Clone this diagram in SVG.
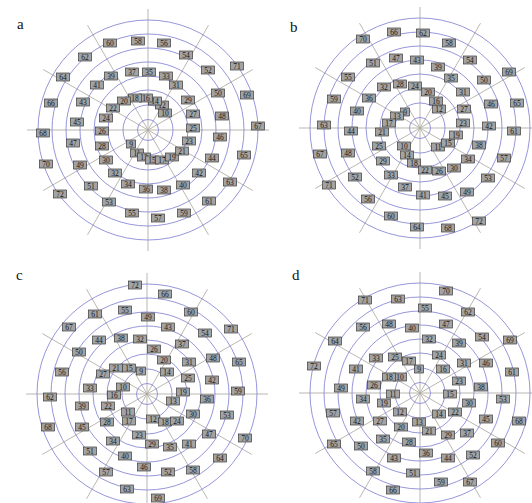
<svg xmlns="http://www.w3.org/2000/svg" xmlns:xlink="http://www.w3.org/1999/xlink" width="532" height="503" viewBox="0 0 532 503">
<style>
.bg{fill:#fff}
.ring{fill:none;stroke:#8a8ad6;stroke-width:0.9}
.spoke{stroke:#aaa59d;stroke-width:0.8}
.n rect{fill:#a3a3a3;stroke:#3a3a3a;stroke-width:0.7}
.n text{font-family:"Liberation Serif","Times New Roman",serif;font-size:7.5px;text-anchor:middle;fill:#151515}
.t{font-family:"Liberation Serif","Times New Roman",serif;font-size:15px;fill:#111}
</style>
<defs>
<g id="grid">
<line class="spoke" x1="-121" y1="0" x2="121" y2="0"/>
<line class="spoke" x1="0" y1="-121" x2="0" y2="121"/>
<line class="spoke" x1="-104.8" y1="-60.5" x2="104.8" y2="60.5"/>
<line class="spoke" x1="-104.8" y1="60.5" x2="104.8" y2="-60.5"/>
<line class="spoke" x1="-60.5" y1="-104.8" x2="60.5" y2="104.8"/>
<line class="spoke" x1="-60.5" y1="104.8" x2="60.5" y2="-104.8"/>
<circle class="ring" r="10.5"/>
<circle class="ring" r="25"/>
<circle class="ring" r="40"/>
<circle class="ring" r="54"/>
<circle class="ring" r="68"/>
<circle class="ring" r="82"/>
<circle class="ring" r="96"/>
<circle class="ring" r="110"/>
</g>
</defs>
<rect class="bg" width="532" height="503"/>
<g id="connectors">
<use xlink:href="#grid" href="#grid" transform="translate(148,130)"/>
<use xlink:href="#grid" href="#grid" transform="translate(420,128)"/>
<use xlink:href="#grid" href="#grid" transform="translate(147,394)"/>
<use xlink:href="#grid" href="#grid" transform="translate(420,393)"/>
</g>
<g id="titles">
<text class="t" x="17" y="29">a</text>
<text class="t" x="290" y="32">b</text>
<text class="t" x="16" y="280">c</text>
<text class="t" x="292" y="280">d</text>
</g>
<g id="panel-a">
<g id="a9" class="n" transform="translate(131,144)"><rect x="-4.5" y="-4" width="9" height="8"/><text y="2.6">9</text></g>
<g id="a10" class="n" transform="translate(165,113)"><rect x="-6.5" y="-4" width="13" height="8"/><text y="2.6">10</text></g>
<g id="a11" class="n" transform="translate(137,153)"><rect x="-6.5" y="-4" width="13" height="8"/><text y="2.6">11</text></g>
<g id="a12" class="n" transform="translate(162,105)"><rect x="-6.5" y="-4" width="13" height="8"/><text y="2.6">12</text></g>
<g id="a13" class="n" transform="translate(144,157)"><rect x="-6.5" y="-4" width="13" height="8"/><text y="2.6">13</text></g>
<g id="a14" class="n" transform="translate(155,101)"><rect x="-6.5" y="-4" width="13" height="8"/><text y="2.6">14</text></g>
<g id="a15" class="n" transform="translate(152,160)"><rect x="-6.5" y="-4" width="13" height="8"/><text y="2.6">15</text></g>
<g id="a16" class="n" transform="translate(146,98)"><rect x="-6.5" y="-4" width="13" height="8"/><text y="2.6">16</text></g>
<g id="a17" class="n" transform="translate(162,160)"><rect x="-6.5" y="-4" width="13" height="8"/><text y="2.6">17</text></g>
<g id="a18" class="n" transform="translate(135,98)"><rect x="-6.5" y="-4" width="13" height="8"/><text y="2.6">18</text></g>
<g id="a19" class="n" transform="translate(172,157)"><rect x="-6.5" y="-4" width="13" height="8"/><text y="2.6">19</text></g>
<g id="a20" class="n" transform="translate(124,101)"><rect x="-6.5" y="-4" width="13" height="8"/><text y="2.6">20</text></g>
<g id="a21" class="n" transform="translate(182,151)"><rect x="-6.5" y="-4" width="13" height="8"/><text y="2.6">21</text></g>
<g id="a22" class="n" transform="translate(113,108)"><rect x="-6.5" y="-4" width="13" height="8"/><text y="2.6">22</text></g>
<g id="a23" class="n" transform="translate(189,141)"><rect x="-6.5" y="-4" width="13" height="8"/><text y="2.6">23</text></g>
<g id="a24" class="n" transform="translate(106,118)"><rect x="-6.5" y="-4" width="13" height="8"/><text y="2.6">24</text></g>
<g id="a25" class="n" transform="translate(193,128)"><rect x="-6.5" y="-4" width="13" height="8"/><text y="2.6">25</text></g>
<g id="a26" class="n" transform="translate(102,131)"><rect x="-6.5" y="-4" width="13" height="8"/><text y="2.6">26</text></g>
<g id="a27" class="n" transform="translate(193,114)"><rect x="-6.5" y="-4" width="13" height="8"/><text y="2.6">27</text></g>
<g id="a28" class="n" transform="translate(102,146)"><rect x="-6.5" y="-4" width="13" height="8"/><text y="2.6">28</text></g>
<g id="a29" class="n" transform="translate(188,100)"><rect x="-6.5" y="-4" width="13" height="8"/><text y="2.6">29</text></g>
<g id="a30" class="n" transform="translate(106,160)"><rect x="-6.5" y="-4" width="13" height="8"/><text y="2.6">30</text></g>
<g id="a31" class="n" transform="translate(176,85)"><rect x="-6.5" y="-4" width="13" height="8"/><text y="2.6">31</text></g>
<g id="a32" class="n" transform="translate(115,173)"><rect x="-6.5" y="-4" width="13" height="8"/><text y="2.6">32</text></g>
<g id="a33" class="n" transform="translate(166,76)"><rect x="-6.5" y="-4" width="13" height="8"/><text y="2.6">33</text></g>
<g id="a34" class="n" transform="translate(128,184)"><rect x="-6.5" y="-4" width="13" height="8"/><text y="2.6">34</text></g>
<g id="a35" class="n" transform="translate(149,72)"><rect x="-6.5" y="-4" width="13" height="8"/><text y="2.6">35</text></g>
<g id="a36" class="n" transform="translate(146,189)"><rect x="-6.5" y="-4" width="13" height="8"/><text y="2.6">36</text></g>
<g id="a37" class="n" transform="translate(132,72)"><rect x="-6.5" y="-4" width="13" height="8"/><text y="2.6">37</text></g>
<g id="a38" class="n" transform="translate(164,190)"><rect x="-6.5" y="-4" width="13" height="8"/><text y="2.6">38</text></g>
<g id="a39" class="n" transform="translate(111,76)"><rect x="-6.5" y="-4" width="13" height="8"/><text y="2.6">39</text></g>
<g id="a40" class="n" transform="translate(183,185)"><rect x="-6.5" y="-4" width="13" height="8"/><text y="2.6">40</text></g>
<g id="a41" class="n" transform="translate(97,85)"><rect x="-6.5" y="-4" width="13" height="8"/><text y="2.6">41</text></g>
<g id="a42" class="n" transform="translate(199,173)"><rect x="-6.5" y="-4" width="13" height="8"/><text y="2.6">42</text></g>
<g id="a43" class="n" transform="translate(83,102)"><rect x="-6.5" y="-4" width="13" height="8"/><text y="2.6">43</text></g>
<g id="a44" class="n" transform="translate(212,158)"><rect x="-6.5" y="-4" width="13" height="8"/><text y="2.6">44</text></g>
<g id="a45" class="n" transform="translate(77,122)"><rect x="-6.5" y="-4" width="13" height="8"/><text y="2.6">45</text></g>
<g id="a46" class="n" transform="translate(220,137)"><rect x="-6.5" y="-4" width="13" height="8"/><text y="2.6">46</text></g>
<g id="a47" class="n" transform="translate(73,143)"><rect x="-6.5" y="-4" width="13" height="8"/><text y="2.6">47</text></g>
<g id="a48" class="n" transform="translate(222,116)"><rect x="-6.5" y="-4" width="13" height="8"/><text y="2.6">48</text></g>
<g id="a49" class="n" transform="translate(80,165)"><rect x="-6.5" y="-4" width="13" height="8"/><text y="2.6">49</text></g>
<g id="a50" class="n" transform="translate(218,93)"><rect x="-6.5" y="-4" width="13" height="8"/><text y="2.6">50</text></g>
<g id="a51" class="n" transform="translate(91,186)"><rect x="-6.5" y="-4" width="13" height="8"/><text y="2.6">51</text></g>
<g id="a52" class="n" transform="translate(208,70)"><rect x="-6.5" y="-4" width="13" height="8"/><text y="2.6">52</text></g>
<g id="a53" class="n" transform="translate(109,202)"><rect x="-6.5" y="-4" width="13" height="8"/><text y="2.6">53</text></g>
<g id="a54" class="n" transform="translate(186,55)"><rect x="-6.5" y="-4" width="13" height="8"/><text y="2.6">54</text></g>
<g id="a55" class="n" transform="translate(132,213)"><rect x="-6.5" y="-4" width="13" height="8"/><text y="2.6">55</text></g>
<g id="a56" class="n" transform="translate(164,43)"><rect x="-6.5" y="-4" width="13" height="8"/><text y="2.6">56</text></g>
<g id="a57" class="n" transform="translate(158,218)"><rect x="-6.5" y="-4" width="13" height="8"/><text y="2.6">57</text></g>
<g id="a58" class="n" transform="translate(138,41)"><rect x="-6.5" y="-4" width="13" height="8"/><text y="2.6">58</text></g>
<g id="a59" class="n" transform="translate(184,213)"><rect x="-6.5" y="-4" width="13" height="8"/><text y="2.6">59</text></g>
<g id="a60" class="n" transform="translate(110,43)"><rect x="-6.5" y="-4" width="13" height="8"/><text y="2.6">60</text></g>
<g id="a61" class="n" transform="translate(209,201)"><rect x="-6.5" y="-4" width="13" height="8"/><text y="2.6">61</text></g>
<g id="a62" class="n" transform="translate(85,57)"><rect x="-6.5" y="-4" width="13" height="8"/><text y="2.6">62</text></g>
<g id="a63" class="n" transform="translate(230,182)"><rect x="-6.5" y="-4" width="13" height="8"/><text y="2.6">63</text></g>
<g id="a64" class="n" transform="translate(63,77)"><rect x="-6.5" y="-4" width="13" height="8"/><text y="2.6">64</text></g>
<g id="a65" class="n" transform="translate(244,155)"><rect x="-6.5" y="-4" width="13" height="8"/><text y="2.6">65</text></g>
<g id="a66" class="n" transform="translate(51,103)"><rect x="-6.5" y="-4" width="13" height="8"/><text y="2.6">66</text></g>
<g id="a67" class="n" transform="translate(258,126)"><rect x="-6.5" y="-4" width="13" height="8"/><text y="2.6">67</text></g>
<g id="a68" class="n" transform="translate(43,133)"><rect x="-6.5" y="-4" width="13" height="8"/><text y="2.6">68</text></g>
<g id="a69" class="n" transform="translate(247,95)"><rect x="-6.5" y="-4" width="13" height="8"/><text y="2.6">69</text></g>
<g id="a70" class="n" transform="translate(46,164)"><rect x="-6.5" y="-4" width="13" height="8"/><text y="2.6">70</text></g>
<g id="a71" class="n" transform="translate(237,66)"><rect x="-6.5" y="-4" width="13" height="8"/><text y="2.6">71</text></g>
<g id="a72" class="n" transform="translate(60,194)"><rect x="-6.5" y="-4" width="13" height="8"/><text y="2.6">72</text></g>
</g>
<g id="panel-b">
<g id="b9" class="n" transform="translate(405,112)"><rect x="-4.5" y="-4" width="9" height="8"/><text y="2.6">9</text></g>
<g id="b10" class="n" transform="translate(404,146)"><rect x="-6.5" y="-4" width="13" height="8"/><text y="2.6">10</text></g>
<g id="b11" class="n" transform="translate(438,147)"><rect x="-6.5" y="-4" width="13" height="8"/><text y="2.6">11</text></g>
<g id="b12" class="n" transform="translate(439,109)"><rect x="-6.5" y="-4" width="13" height="8"/><text y="2.6">12</text></g>
<g id="b13" class="n" transform="translate(397,116)"><rect x="-6.5" y="-4" width="13" height="8"/><text y="2.6">13</text></g>
<g id="b14" class="n" transform="translate(407,155)"><rect x="-6.5" y="-4" width="13" height="8"/><text y="2.6">14</text></g>
<g id="b15" class="n" transform="translate(448,143)"><rect x="-6.5" y="-4" width="13" height="8"/><text y="2.6">15</text></g>
<g id="b16" class="n" transform="translate(436,101)"><rect x="-6.5" y="-4" width="13" height="8"/><text y="2.6">16</text></g>
<g id="b17" class="n" transform="translate(389,123)"><rect x="-6.5" y="-4" width="13" height="8"/><text y="2.6">17</text></g>
<g id="b18" class="n" transform="translate(414,163)"><rect x="-6.5" y="-4" width="13" height="8"/><text y="2.6">18</text></g>
<g id="b19" class="n" transform="translate(456,135)"><rect x="-6.5" y="-4" width="13" height="8"/><text y="2.6">19</text></g>
<g id="b20" class="n" transform="translate(428,92)"><rect x="-6.5" y="-4" width="13" height="8"/><text y="2.6">20</text></g>
<g id="b21" class="n" transform="translate(382,132)"><rect x="-6.5" y="-4" width="13" height="8"/><text y="2.6">21</text></g>
<g id="b22" class="n" transform="translate(425,170)"><rect x="-6.5" y="-4" width="13" height="8"/><text y="2.6">22</text></g>
<g id="b23" class="n" transform="translate(463,123)"><rect x="-6.5" y="-4" width="13" height="8"/><text y="2.6">23</text></g>
<g id="b24" class="n" transform="translate(415,86)"><rect x="-6.5" y="-4" width="13" height="8"/><text y="2.6">24</text></g>
<g id="b25" class="n" transform="translate(379,146)"><rect x="-6.5" y="-4" width="13" height="8"/><text y="2.6">25</text></g>
<g id="b26" class="n" transform="translate(439,171)"><rect x="-6.5" y="-4" width="13" height="8"/><text y="2.6">26</text></g>
<g id="b27" class="n" transform="translate(464,109)"><rect x="-6.5" y="-4" width="13" height="8"/><text y="2.6">27</text></g>
<g id="b28" class="n" transform="translate(400,84)"><rect x="-6.5" y="-4" width="13" height="8"/><text y="2.6">28</text></g>
<g id="b29" class="n" transform="translate(383,161)"><rect x="-6.5" y="-4" width="13" height="8"/><text y="2.6">29</text></g>
<g id="b30" class="n" transform="translate(454,168)"><rect x="-6.5" y="-4" width="13" height="8"/><text y="2.6">30</text></g>
<g id="b31" class="n" transform="translate(463,92)"><rect x="-6.5" y="-4" width="13" height="8"/><text y="2.6">31</text></g>
<g id="b32" class="n" transform="translate(384,87)"><rect x="-6.5" y="-4" width="13" height="8"/><text y="2.6">32</text></g>
<g id="b33" class="n" transform="translate(391,175)"><rect x="-6.5" y="-4" width="13" height="8"/><text y="2.6">33</text></g>
<g id="b34" class="n" transform="translate(468,159)"><rect x="-6.5" y="-4" width="13" height="8"/><text y="2.6">34</text></g>
<g id="b35" class="n" transform="translate(451,78)"><rect x="-6.5" y="-4" width="13" height="8"/><text y="2.6">35</text></g>
<g id="b36" class="n" transform="translate(369,98)"><rect x="-6.5" y="-4" width="13" height="8"/><text y="2.6">36</text></g>
<g id="b37" class="n" transform="translate(405,187)"><rect x="-6.5" y="-4" width="13" height="8"/><text y="2.6">37</text></g>
<g id="b38" class="n" transform="translate(479,145)"><rect x="-6.5" y="-4" width="13" height="8"/><text y="2.6">38</text></g>
<g id="b39" class="n" transform="translate(438,67)"><rect x="-6.5" y="-4" width="13" height="8"/><text y="2.6">39</text></g>
<g id="b40" class="n" transform="translate(357,111)"><rect x="-6.5" y="-4" width="13" height="8"/><text y="2.6">40</text></g>
<g id="b41" class="n" transform="translate(423,195)"><rect x="-6.5" y="-4" width="13" height="8"/><text y="2.6">41</text></g>
<g id="b42" class="n" transform="translate(489,126)"><rect x="-6.5" y="-4" width="13" height="8"/><text y="2.6">42</text></g>
<g id="b43" class="n" transform="translate(417,60)"><rect x="-6.5" y="-4" width="13" height="8"/><text y="2.6">43</text></g>
<g id="b44" class="n" transform="translate(351,131)"><rect x="-6.5" y="-4" width="13" height="8"/><text y="2.6">44</text></g>
<g id="b45" class="n" transform="translate(445,196)"><rect x="-6.5" y="-4" width="13" height="8"/><text y="2.6">45</text></g>
<g id="b46" class="n" transform="translate(491,104)"><rect x="-6.5" y="-4" width="13" height="8"/><text y="2.6">46</text></g>
<g id="b47" class="n" transform="translate(396,58)"><rect x="-6.5" y="-4" width="13" height="8"/><text y="2.6">47</text></g>
<g id="b48" class="n" transform="translate(348,153)"><rect x="-6.5" y="-4" width="13" height="8"/><text y="2.6">48</text></g>
<g id="b49" class="n" transform="translate(467,192)"><rect x="-6.5" y="-4" width="13" height="8"/><text y="2.6">49</text></g>
<g id="b50" class="n" transform="translate(484,80)"><rect x="-6.5" y="-4" width="13" height="8"/><text y="2.6">50</text></g>
<g id="b51" class="n" transform="translate(373,63)"><rect x="-6.5" y="-4" width="13" height="8"/><text y="2.6">51</text></g>
<g id="b52" class="n" transform="translate(355,177)"><rect x="-6.5" y="-4" width="13" height="8"/><text y="2.6">52</text></g>
<g id="b53" class="n" transform="translate(488,178)"><rect x="-6.5" y="-4" width="13" height="8"/><text y="2.6">53</text></g>
<g id="b54" class="n" transform="translate(470,60)"><rect x="-6.5" y="-4" width="13" height="8"/><text y="2.6">54</text></g>
<g id="b55" class="n" transform="translate(348,77)"><rect x="-6.5" y="-4" width="13" height="8"/><text y="2.6">55</text></g>
<g id="b56" class="n" transform="translate(368,199)"><rect x="-6.5" y="-4" width="13" height="8"/><text y="2.6">56</text></g>
<g id="b57" class="n" transform="translate(504,158)"><rect x="-6.5" y="-4" width="13" height="8"/><text y="2.6">57</text></g>
<g id="b58" class="n" transform="translate(449,43)"><rect x="-6.5" y="-4" width="13" height="8"/><text y="2.6">58</text></g>
<g id="b59" class="n" transform="translate(334,99)"><rect x="-6.5" y="-4" width="13" height="8"/><text y="2.6">59</text></g>
<g id="b60" class="n" transform="translate(391,216)"><rect x="-6.5" y="-4" width="13" height="8"/><text y="2.6">60</text></g>
<g id="b61" class="n" transform="translate(514,131)"><rect x="-6.5" y="-4" width="13" height="8"/><text y="2.6">61</text></g>
<g id="b62" class="n" transform="translate(423,33)"><rect x="-6.5" y="-4" width="13" height="8"/><text y="2.6">62</text></g>
<g id="b63" class="n" transform="translate(324,125)"><rect x="-6.5" y="-4" width="13" height="8"/><text y="2.6">63</text></g>
<g id="b64" class="n" transform="translate(417,227)"><rect x="-6.5" y="-4" width="13" height="8"/><text y="2.6">64</text></g>
<g id="b65" class="n" transform="translate(517,103)"><rect x="-6.5" y="-4" width="13" height="8"/><text y="2.6">65</text></g>
<g id="b66" class="n" transform="translate(394,32)"><rect x="-6.5" y="-4" width="13" height="8"/><text y="2.6">66</text></g>
<g id="b67" class="n" transform="translate(320,154)"><rect x="-6.5" y="-4" width="13" height="8"/><text y="2.6">67</text></g>
<g id="b68" class="n" transform="translate(448,228)"><rect x="-6.5" y="-4" width="13" height="8"/><text y="2.6">68</text></g>
<g id="b69" class="n" transform="translate(509,72)"><rect x="-6.5" y="-4" width="13" height="8"/><text y="2.6">69</text></g>
<g id="b70" class="n" transform="translate(363,39)"><rect x="-6.5" y="-4" width="13" height="8"/><text y="2.6">70</text></g>
<g id="b71" class="n" transform="translate(329,185)"><rect x="-6.5" y="-4" width="13" height="8"/><text y="2.6">71</text></g>
<g id="b72" class="n" transform="translate(479,221)"><rect x="-6.5" y="-4" width="13" height="8"/><text y="2.6">72</text></g>
</g>
<g id="panel-c">
<g id="c9" class="n" transform="translate(141,371)"><rect x="-4.5" y="-4" width="9" height="8"/><text y="2.6">9</text></g>
<g id="c10" class="n" transform="translate(123,387)"><rect x="-6.5" y="-4" width="13" height="8"/><text y="2.6">10</text></g>
<g id="c11" class="n" transform="translate(128,412)"><rect x="-6.5" y="-4" width="13" height="8"/><text y="2.6">11</text></g>
<g id="c12" class="n" transform="translate(153,419)"><rect x="-6.5" y="-4" width="13" height="8"/><text y="2.6">12</text></g>
<g id="c13" class="n" transform="translate(173,401)"><rect x="-6.5" y="-4" width="13" height="8"/><text y="2.6">13</text></g>
<g id="c14" class="n" transform="translate(167,372)"><rect x="-6.5" y="-4" width="13" height="8"/><text y="2.6">14</text></g>
<g id="c15" class="n" transform="translate(129,368)"><rect x="-6.5" y="-4" width="13" height="8"/><text y="2.6">15</text></g>
<g id="c16" class="n" transform="translate(114,395)"><rect x="-6.5" y="-4" width="13" height="8"/><text y="2.6">16</text></g>
<g id="c17" class="n" transform="translate(129,421)"><rect x="-6.5" y="-4" width="13" height="8"/><text y="2.6">17</text></g>
<g id="c18" class="n" transform="translate(165,422)"><rect x="-6.5" y="-4" width="13" height="8"/><text y="2.6">18</text></g>
<g id="c19" class="n" transform="translate(183,392)"><rect x="-6.5" y="-4" width="13" height="8"/><text y="2.6">19</text></g>
<g id="c20" class="n" transform="translate(164,360)"><rect x="-6.5" y="-4" width="13" height="8"/><text y="2.6">20</text></g>
<g id="c21" class="n" transform="translate(116,368)"><rect x="-6.5" y="-4" width="13" height="8"/><text y="2.6">21</text></g>
<g id="c22" class="n" transform="translate(108,406)"><rect x="-6.5" y="-4" width="13" height="8"/><text y="2.6">22</text></g>
<g id="c23" class="n" transform="translate(139,435)"><rect x="-6.5" y="-4" width="13" height="8"/><text y="2.6">23</text></g>
<g id="c24" class="n" transform="translate(177,421)"><rect x="-6.5" y="-4" width="13" height="8"/><text y="2.6">24</text></g>
<g id="c25" class="n" transform="translate(188,378)"><rect x="-6.5" y="-4" width="13" height="8"/><text y="2.6">25</text></g>
<g id="c26" class="n" transform="translate(154,349)"><rect x="-6.5" y="-4" width="13" height="8"/><text y="2.6">26</text></g>
<g id="c27" class="n" transform="translate(103,374)"><rect x="-6.5" y="-4" width="13" height="8"/><text y="2.6">27</text></g>
<g id="c28" class="n" transform="translate(107,422)"><rect x="-6.5" y="-4" width="13" height="8"/><text y="2.6">28</text></g>
<g id="c29" class="n" transform="translate(152,444)"><rect x="-6.5" y="-4" width="13" height="8"/><text y="2.6">29</text></g>
<g id="c30" class="n" transform="translate(193,414)"><rect x="-6.5" y="-4" width="13" height="8"/><text y="2.6">30</text></g>
<g id="c31" class="n" transform="translate(189,362)"><rect x="-6.5" y="-4" width="13" height="8"/><text y="2.6">31</text></g>
<g id="c32" class="n" transform="translate(140,339)"><rect x="-6.5" y="-4" width="13" height="8"/><text y="2.6">32</text></g>
<g id="c33" class="n" transform="translate(90,388)"><rect x="-6.5" y="-4" width="13" height="8"/><text y="2.6">33</text></g>
<g id="c34" class="n" transform="translate(113,441)"><rect x="-6.5" y="-4" width="13" height="8"/><text y="2.6">34</text></g>
<g id="c35" class="n" transform="translate(170,447)"><rect x="-6.5" y="-4" width="13" height="8"/><text y="2.6">35</text></g>
<g id="c36" class="n" transform="translate(207,399)"><rect x="-6.5" y="-4" width="13" height="8"/><text y="2.6">36</text></g>
<g id="c37" class="n" transform="translate(182,344)"><rect x="-6.5" y="-4" width="13" height="8"/><text y="2.6">37</text></g>
<g id="c38" class="n" transform="translate(121,338)"><rect x="-6.5" y="-4" width="13" height="8"/><text y="2.6">38</text></g>
<g id="c39" class="n" transform="translate(82,406)"><rect x="-6.5" y="-4" width="13" height="8"/><text y="2.6">39</text></g>
<g id="c40" class="n" transform="translate(125,456)"><rect x="-6.5" y="-4" width="13" height="8"/><text y="2.6">40</text></g>
<g id="c41" class="n" transform="translate(189,444)"><rect x="-6.5" y="-4" width="13" height="8"/><text y="2.6">41</text></g>
<g id="c42" class="n" transform="translate(212,380)"><rect x="-6.5" y="-4" width="13" height="8"/><text y="2.6">42</text></g>
<g id="c43" class="n" transform="translate(168,327)"><rect x="-6.5" y="-4" width="13" height="8"/><text y="2.6">43</text></g>
<g id="c44" class="n" transform="translate(99,340)"><rect x="-6.5" y="-4" width="13" height="8"/><text y="2.6">44</text></g>
<g id="c45" class="n" transform="translate(82,427)"><rect x="-6.5" y="-4" width="13" height="8"/><text y="2.6">45</text></g>
<g id="c46" class="n" transform="translate(144,467)"><rect x="-6.5" y="-4" width="13" height="8"/><text y="2.6">46</text></g>
<g id="c47" class="n" transform="translate(209,434)"><rect x="-6.5" y="-4" width="13" height="8"/><text y="2.6">47</text></g>
<g id="c48" class="n" transform="translate(213,358)"><rect x="-6.5" y="-4" width="13" height="8"/><text y="2.6">48</text></g>
<g id="c49" class="n" transform="translate(148,317)"><rect x="-6.5" y="-4" width="13" height="8"/><text y="2.6">49</text></g>
<g id="c50" class="n" transform="translate(79,352)"><rect x="-6.5" y="-4" width="13" height="8"/><text y="2.6">50</text></g>
<g id="c51" class="n" transform="translate(90,451)"><rect x="-6.5" y="-4" width="13" height="8"/><text y="2.6">51</text></g>
<g id="c52" class="n" transform="translate(168,472)"><rect x="-6.5" y="-4" width="13" height="8"/><text y="2.6">52</text></g>
<g id="c53" class="n" transform="translate(227,415)"><rect x="-6.5" y="-4" width="13" height="8"/><text y="2.6">53</text></g>
<g id="c54" class="n" transform="translate(205,333)"><rect x="-6.5" y="-4" width="13" height="8"/><text y="2.6">54</text></g>
<g id="c55" class="n" transform="translate(125,310)"><rect x="-6.5" y="-4" width="13" height="8"/><text y="2.6">55</text></g>
<g id="c56" class="n" transform="translate(62,372)"><rect x="-6.5" y="-4" width="13" height="8"/><text y="2.6">56</text></g>
<g id="c57" class="n" transform="translate(106,472)"><rect x="-6.5" y="-4" width="13" height="8"/><text y="2.6">57</text></g>
<g id="c58" class="n" transform="translate(193,470)"><rect x="-6.5" y="-4" width="13" height="8"/><text y="2.6">58</text></g>
<g id="c59" class="n" transform="translate(238,391)"><rect x="-6.5" y="-4" width="13" height="8"/><text y="2.6">59</text></g>
<g id="c60" class="n" transform="translate(191,312)"><rect x="-6.5" y="-4" width="13" height="8"/><text y="2.6">60</text></g>
<g id="c61" class="n" transform="translate(95,314)"><rect x="-6.5" y="-4" width="13" height="8"/><text y="2.6">61</text></g>
<g id="c62" class="n" transform="translate(50,397)"><rect x="-6.5" y="-4" width="13" height="8"/><text y="2.6">62</text></g>
<g id="c63" class="n" transform="translate(127,489)"><rect x="-6.5" y="-4" width="13" height="8"/><text y="2.6">63</text></g>
<g id="c64" class="n" transform="translate(220,458)"><rect x="-6.5" y="-4" width="13" height="8"/><text y="2.6">64</text></g>
<g id="c65" class="n" transform="translate(239,362)"><rect x="-6.5" y="-4" width="13" height="8"/><text y="2.6">65</text></g>
<g id="c66" class="n" transform="translate(165,294)"><rect x="-6.5" y="-4" width="13" height="8"/><text y="2.6">66</text></g>
<g id="c67" class="n" transform="translate(69,327)"><rect x="-6.5" y="-4" width="13" height="8"/><text y="2.6">67</text></g>
<g id="c68" class="n" transform="translate(48,427)"><rect x="-6.5" y="-4" width="13" height="8"/><text y="2.6">68</text></g>
<g id="c69" class="n" transform="translate(158,498)"><rect x="-6.5" y="-4" width="13" height="8"/><text y="2.6">69</text></g>
<g id="c70" class="n" transform="translate(245,438)"><rect x="-6.5" y="-4" width="13" height="8"/><text y="2.6">70</text></g>
<g id="c71" class="n" transform="translate(231,329)"><rect x="-6.5" y="-4" width="13" height="8"/><text y="2.6">71</text></g>
<g id="c72" class="n" transform="translate(135,285)"><rect x="-6.5" y="-4" width="13" height="8"/><text y="2.6">72</text></g>
</g>
<g id="panel-d">
<g id="d9" class="n" transform="translate(419,369)"><rect x="-4.5" y="-4" width="9" height="8"/><text y="2.6">9</text></g>
<g id="d10" class="n" transform="translate(400,377)"><rect x="-6.5" y="-4" width="13" height="8"/><text y="2.6">10</text></g>
<g id="d11" class="n" transform="translate(393,394)"><rect x="-6.5" y="-4" width="13" height="8"/><text y="2.6">11</text></g>
<g id="d12" class="n" transform="translate(400,412)"><rect x="-6.5" y="-4" width="13" height="8"/><text y="2.6">12</text></g>
<g id="d13" class="n" transform="translate(419,422)"><rect x="-6.5" y="-4" width="13" height="8"/><text y="2.6">13</text></g>
<g id="d14" class="n" transform="translate(439,414)"><rect x="-6.5" y="-4" width="13" height="8"/><text y="2.6">14</text></g>
<g id="d15" class="n" transform="translate(450,394)"><rect x="-6.5" y="-4" width="13" height="8"/><text y="2.6">15</text></g>
<g id="d16" class="n" transform="translate(443,369)"><rect x="-6.5" y="-4" width="13" height="8"/><text y="2.6">16</text></g>
<g id="d17" class="n" transform="translate(409,361)"><rect x="-6.5" y="-4" width="13" height="8"/><text y="2.6">17</text></g>
<g id="d18" class="n" transform="translate(389,377)"><rect x="-6.5" y="-4" width="13" height="8"/><text y="2.6">18</text></g>
<g id="d19" class="n" transform="translate(384,403)"><rect x="-6.5" y="-4" width="13" height="8"/><text y="2.6">19</text></g>
<g id="d20" class="n" transform="translate(401,427)"><rect x="-6.5" y="-4" width="13" height="8"/><text y="2.6">20</text></g>
<g id="d21" class="n" transform="translate(429,431)"><rect x="-6.5" y="-4" width="13" height="8"/><text y="2.6">21</text></g>
<g id="d22" class="n" transform="translate(455,412)"><rect x="-6.5" y="-4" width="13" height="8"/><text y="2.6">22</text></g>
<g id="d23" class="n" transform="translate(459,381)"><rect x="-6.5" y="-4" width="13" height="8"/><text y="2.6">23</text></g>
<g id="d24" class="n" transform="translate(439,355)"><rect x="-6.5" y="-4" width="13" height="8"/><text y="2.6">24</text></g>
<g id="d25" class="n" transform="translate(395,357)"><rect x="-6.5" y="-4" width="13" height="8"/><text y="2.6">25</text></g>
<g id="d26" class="n" transform="translate(374,385)"><rect x="-6.5" y="-4" width="13" height="8"/><text y="2.6">26</text></g>
<g id="d27" class="n" transform="translate(380,421)"><rect x="-6.5" y="-4" width="13" height="8"/><text y="2.6">27</text></g>
<g id="d28" class="n" transform="translate(409,442)"><rect x="-6.5" y="-4" width="13" height="8"/><text y="2.6">28</text></g>
<g id="d29" class="n" transform="translate(448,435)"><rect x="-6.5" y="-4" width="13" height="8"/><text y="2.6">29</text></g>
<g id="d30" class="n" transform="translate(469,403)"><rect x="-6.5" y="-4" width="13" height="8"/><text y="2.6">30</text></g>
<g id="d31" class="n" transform="translate(464,363)"><rect x="-6.5" y="-4" width="13" height="8"/><text y="2.6">31</text></g>
<g id="d32" class="n" transform="translate(429,339)"><rect x="-6.5" y="-4" width="13" height="8"/><text y="2.6">32</text></g>
<g id="d33" class="n" transform="translate(376,358)"><rect x="-6.5" y="-4" width="13" height="8"/><text y="2.6">33</text></g>
<g id="d34" class="n" transform="translate(363,399)"><rect x="-6.5" y="-4" width="13" height="8"/><text y="2.6">34</text></g>
<g id="d35" class="n" transform="translate(383,439)"><rect x="-6.5" y="-4" width="13" height="8"/><text y="2.6">35</text></g>
<g id="d36" class="n" transform="translate(426,453)"><rect x="-6.5" y="-4" width="13" height="8"/><text y="2.6">36</text></g>
<g id="d37" class="n" transform="translate(467,433)"><rect x="-6.5" y="-4" width="13" height="8"/><text y="2.6">37</text></g>
<g id="d38" class="n" transform="translate(481,387)"><rect x="-6.5" y="-4" width="13" height="8"/><text y="2.6">38</text></g>
<g id="d39" class="n" transform="translate(459,343)"><rect x="-6.5" y="-4" width="13" height="8"/><text y="2.6">39</text></g>
<g id="d40" class="n" transform="translate(412,328)"><rect x="-6.5" y="-4" width="13" height="8"/><text y="2.6">40</text></g>
<g id="d41" class="n" transform="translate(356,369)"><rect x="-6.5" y="-4" width="13" height="8"/><text y="2.6">41</text></g>
<g id="d42" class="n" transform="translate(357,421)"><rect x="-6.5" y="-4" width="13" height="8"/><text y="2.6">42</text></g>
<g id="d43" class="n" transform="translate(394,458)"><rect x="-6.5" y="-4" width="13" height="8"/><text y="2.6">43</text></g>
<g id="d44" class="n" transform="translate(448,458)"><rect x="-6.5" y="-4" width="13" height="8"/><text y="2.6">44</text></g>
<g id="d45" class="n" transform="translate(486,419)"><rect x="-6.5" y="-4" width="13" height="8"/><text y="2.6">45</text></g>
<g id="d46" class="n" transform="translate(486,363)"><rect x="-6.5" y="-4" width="13" height="8"/><text y="2.6">46</text></g>
<g id="d47" class="n" transform="translate(446,324)"><rect x="-6.5" y="-4" width="13" height="8"/><text y="2.6">47</text></g>
<g id="d48" class="n" transform="translate(389,324)"><rect x="-6.5" y="-4" width="13" height="8"/><text y="2.6">48</text></g>
<g id="d49" class="n" transform="translate(341,388)"><rect x="-6.5" y="-4" width="13" height="8"/><text y="2.6">49</text></g>
<g id="d50" class="n" transform="translate(361,446)"><rect x="-6.5" y="-4" width="13" height="8"/><text y="2.6">50</text></g>
<g id="d51" class="n" transform="translate(413,473)"><rect x="-6.5" y="-4" width="13" height="8"/><text y="2.6">51</text></g>
<g id="d52" class="n" transform="translate(473,455)"><rect x="-6.5" y="-4" width="13" height="8"/><text y="2.6">52</text></g>
<g id="d53" class="n" transform="translate(503,399)"><rect x="-6.5" y="-4" width="13" height="8"/><text y="2.6">53</text></g>
<g id="d54" class="n" transform="translate(482,337)"><rect x="-6.5" y="-4" width="13" height="8"/><text y="2.6">54</text></g>
<g id="d55" class="n" transform="translate(425,308)"><rect x="-6.5" y="-4" width="13" height="8"/><text y="2.6">55</text></g>
<g id="d56" class="n" transform="translate(363,327)"><rect x="-6.5" y="-4" width="13" height="8"/><text y="2.6">56</text></g>
<g id="d57" class="n" transform="translate(333,413)"><rect x="-6.5" y="-4" width="13" height="8"/><text y="2.6">57</text></g>
<g id="d58" class="n" transform="translate(373,471)"><rect x="-6.5" y="-4" width="13" height="8"/><text y="2.6">58</text></g>
<g id="d59" class="n" transform="translate(441,482)"><rect x="-6.5" y="-4" width="13" height="8"/><text y="2.6">59</text></g>
<g id="d60" class="n" transform="translate(498,443)"><rect x="-6.5" y="-4" width="13" height="8"/><text y="2.6">60</text></g>
<g id="d61" class="n" transform="translate(512,372)"><rect x="-6.5" y="-4" width="13" height="8"/><text y="2.6">61</text></g>
<g id="d62" class="n" transform="translate(468,312)"><rect x="-6.5" y="-4" width="13" height="8"/><text y="2.6">62</text></g>
<g id="d63" class="n" transform="translate(398,299)"><rect x="-6.5" y="-4" width="13" height="8"/><text y="2.6">63</text></g>
<g id="d64" class="n" transform="translate(335,341)"><rect x="-6.5" y="-4" width="13" height="8"/><text y="2.6">64</text></g>
<g id="d65" class="n" transform="translate(334,444)"><rect x="-6.5" y="-4" width="13" height="8"/><text y="2.6">65</text></g>
<g id="d66" class="n" transform="translate(393,490)"><rect x="-6.5" y="-4" width="13" height="8"/><text y="2.6">66</text></g>
<g id="d67" class="n" transform="translate(470,482)"><rect x="-6.5" y="-4" width="13" height="8"/><text y="2.6">67</text></g>
<g id="d68" class="n" transform="translate(519,421)"><rect x="-6.5" y="-4" width="13" height="8"/><text y="2.6">68</text></g>
<g id="d69" class="n" transform="translate(510,340)"><rect x="-6.5" y="-4" width="13" height="8"/><text y="2.6">69</text></g>
<g id="d70" class="n" transform="translate(446,291)"><rect x="-6.5" y="-4" width="13" height="8"/><text y="2.6">70</text></g>
<g id="d71" class="n" transform="translate(365,300)"><rect x="-6.5" y="-4" width="13" height="8"/><text y="2.6">71</text></g>
<g id="d72" class="n" transform="translate(314,366)"><rect x="-6.5" y="-4" width="13" height="8"/><text y="2.6">72</text></g>
</g>
</svg>
